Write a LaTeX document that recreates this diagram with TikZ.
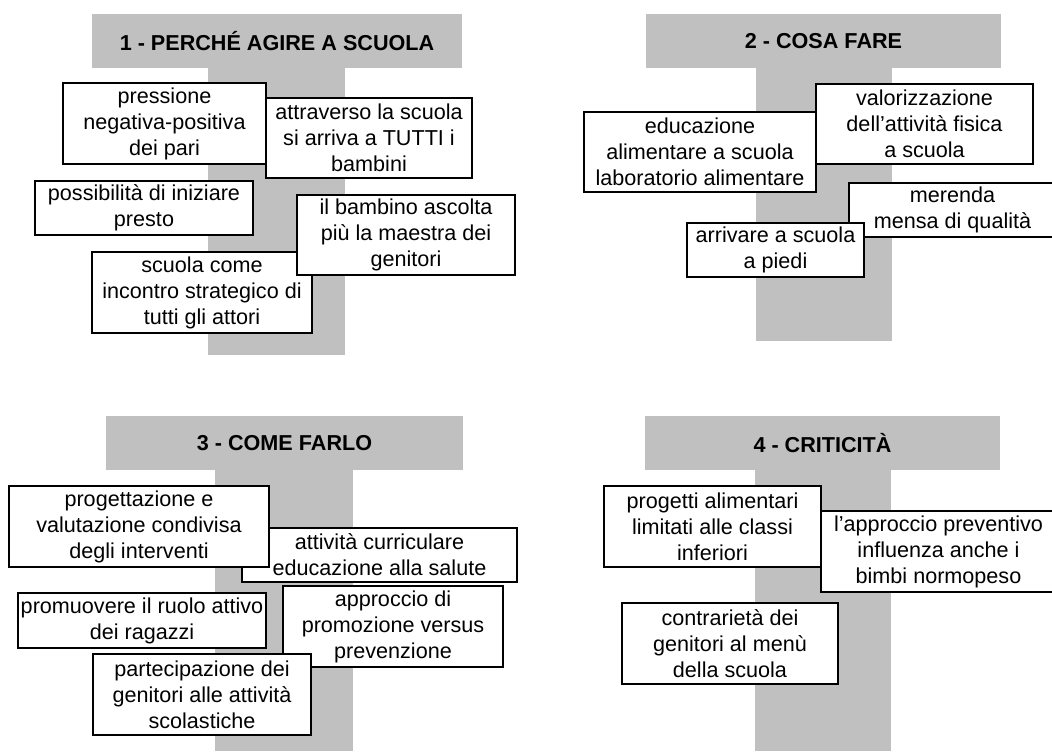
\documentclass[tikz,border=0pt]{standalone}
\usepackage{fontspec}
\setmainfont{Liberation Sans}
\usetikzlibrary{positioning}
\definecolor{tgray}{HTML}{C0C0C0}
\tikzset{font=\fontsize{16.2}{19.5}\selectfont}
\tikzset{
	box/.style={draw, fill=white, line width=1.2pt, align=center, inner sep=0pt},
	bar/.style={fill=tgray, inner sep=0pt, font=\fontsize{16.2}{19.5}\selectfont\bfseries},
	wh/.style 2 args={minimum width=#1*0.75pt, minimum height=#2*0.75pt}
}

\begin{document}
\begin{tikzpicture}[x=0.75pt, y=-0.75pt]
	\useasboundingbox (0,0) rectangle (1052,751);
	\clip (0,0) rectangle (1052,751);

	% 1
	\fill[tgray] (208,68) rectangle (345,355);
	\node[bar, wh={370}{54}] (t1) at (277,41) {1 - PERCHÉ AGIRE A SCUOLA};
	\node[box, wh={203}{81}] (pres) at (164.5,123.5) {pressione\\negativa-positiva\\dei pari};
	\node[box, wh={206}{80}] (attr) at (369,138) {attraverso la scuola\\si arriva a TUTTI i\\bambini};
	\node[box, wh={218}{54}] (poss) at (144,208) {possibilità di iniziare\\presto};
	\node[box, wh={220}{81}] (inc) at (202,292.5) {scuola come\\incontro strategico di\\tutti gli attori};
	\node[box, wh={218}{80}] (bamb) at (406,235) {il bambino ascolta\\più la maestra dei\\genitori};

	% 2
	\fill[tgray] (756,68) rectangle (892,341);
	\node[bar, wh={355}{54}] (t2) at (823.5,41) {2 - COSA FARE};
	\node[box, wh={232}{80}] (edu) at (700,152) {educazione\\alimentare a scuola\\laboratorio alimentare};
	\node[box, wh={217}{80}] (val) at (924.5,124) {valorizzazione\\dell’attività fisica\\a scuola};
	\node[box, wh={207}{54}] (mer) at (952.5,210) {merenda\\mensa di qualità};
	\node[box, wh={177}{54}] (arr) at (775.5,250) {arrivare a scuola\\a piedi};

	% 3
	\fill[tgray] (215,470) rectangle (353,751);
	\node[bar, wh={357}{54}] (t3) at (284.5,443) {3 - COME FARLO};
	\node[box, wh={275}{54}] (curr) at (379.5,555) {attività curriculare\\educazione alla salute};
	\node[box, wh={260}{81}] (prog) at (139,526.5) {progettazione e\\valutazione condivisa\\degli interventi};
	\node[box, wh={248}{55}] (ruolo) at (142,620.5) {promuovere il ruolo attivo\\dei ragazzi};
	\node[box, wh={220}{81}] (appr) at (393,626.5) {approccio di\\promozione versus\\prevenzione};
	\node[box, wh={218}{81}] (part) at (202,694.5) {partecipazione dei\\genitori alle attività\\scolastiche};

	% 4
	\fill[tgray] (755,470) rectangle (891,751);
	\node[bar, wh={355}{54}] (t4) at (822.5,443) {4 - CRITICITÀ};
	\node[box, wh={217}{81}] (lim) at (712.5,526.5) {progetti alimentari\\limitati alle classi\\inferiori};
	\node[box, wh={235}{81}] (prev) at (938.5,551.5) {l’approccio preventivo\\influenza anche i\\bimbi normopeso};
	\node[box, wh={216}{81}] (menu) at (730,643.5) {contrarietà dei\\genitori al menù\\della scuola};
\end{tikzpicture}
\end{document}
